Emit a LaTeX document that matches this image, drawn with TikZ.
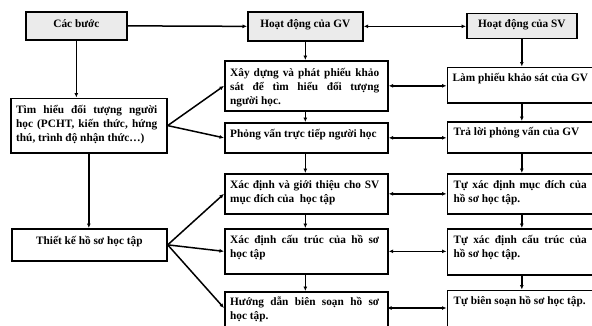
\documentclass[tikz,border=0pt]{standalone}
\usepackage{fontspec}
\setmainfont{Liberation Serif}
\usetikzlibrary{arrows.meta}
\tikzset{
  bx/.style={draw=black, line width=1.7pt, inner sep=0pt, anchor=north west, fill=white},
  hd/.style={bx, fill=black!8},
  tx/.style={inner sep=0pt, anchor=north west, align=justify, font=\fontsize{11.3}{14}\selectfont\bfseries},
  tc/.style={inner sep=0pt, anchor=north, align=center, font=\fontsize{11.3}{14}\selectfont\bfseries},
  ar/.style={line width=1.5pt, -{Latex[length=4.5pt,width=4pt]}},
  da/.style={line width=1.5pt, {Latex[length=4.5pt,width=4pt]}-{Latex[length=4.5pt,width=4pt]}}
}
\begin{document}
\begin{tikzpicture}[x=1pt,y=-1pt]
\clip (0,0) rectangle (592,325);
\fill[white] (0,0) rectangle (592,325);
% headers
\node[hd, minimum width=101pt, minimum height=28pt] (cac) at (25,11) {};
\node[tc] (tcac) at ([yshift=-6pt]cac.north) {\strut Các bước};
\node[hd, minimum width=115pt, minimum height=29pt] (gvh) at (247,11) {};
\node[tc] (tgvh) at ([yshift=-6pt]gvh.north) {\strut Hoạt động của GV};
\node[hd, minimum width=110pt, minimum height=25pt] (svh) at (466,12.5) {};
\node[tc] (tsvh) at ([yshift=-4.5pt]svh.north) {\strut Hoạt động của SV};
% left column
\node[bx, minimum width=156pt, minimum height=54.5pt] (tim) at (10,97.5) {};
\node[tx, text width=141pt] (ttim) at ([xshift=6pt,yshift=-6pt]tim.north west) {\strut Tìm hiểu đối tượng người\linebreak học (PCHT, kiến thức, hứng\linebreak thú, trình độ nhận thức…)};
\node[bx, minimum width=155pt, minimum height=32pt] (thiet) at (11,228) {};
\node[tc] (tthiet) at ([yshift=-6pt]thiet.north) {\strut Thiết kế hồ sơ học tập};
% GV column
\node[bx, minimum width=163pt, minimum height=50pt] (gv1) at (224,60) {};
\node[tx, text width=149pt] (tgv1) at ([xshift=6pt,yshift=-6pt]gv1.north west) {\strut Xây dựng và phát phiếu khảo\linebreak sát để tìm hiểu đối tượng\linebreak người học.};
\node[bx, minimum width=163pt, minimum height=30pt] (gv2) at (224,122) {};
\node[tx, text width=149pt] (tgv2) at ([xshift=6pt,yshift=-5pt]gv2.north west) {\strut Phỏng vấn trực tiếp người học};
\node[bx, minimum width=163pt, minimum height=40pt] (gv3) at (224,173) {};
\node[tx, text width=149pt] (tgv3) at ([xshift=6pt,yshift=-5.5pt]gv3.north west) {\strut Xác định và giới thiệu cho SV\linebreak mục đích của\ \ học tập};
\node[bx, minimum width=163pt, minimum height=45pt] (gv4) at (224,228) {};
\node[tx, text width=149pt] (tgv4) at ([xshift=6pt,yshift=-5pt]gv4.north west) {\strut Xác định cấu trúc của hồ sơ\linebreak học tập};
\node[bx, minimum width=163pt, minimum height=45pt] (gv5) at (224,291) {};
\node[tx, text width=149pt] (tgv5) at ([xshift=6pt,yshift=-4pt]gv5.north west) {\strut Hướng dẫn biên soạn hồ sơ\linebreak học tập.};
% SV column
\node[bx, minimum width=145pt, minimum height=35.5pt] (sv1) at (446.5,66.5) {};
\node[tx] (tsv1) at ([xshift=6pt,yshift=-4.5pt]sv1.north west) {\strut Làm phiếu khảo sát của GV};
\node[bx, minimum width=145pt, minimum height=31pt] (sv2) at (446.5,121) {};
\node[tx] (tsv2) at ([xshift=7pt,yshift=-4.5pt]sv2.north west) {\strut Trả lời phỏng vấn của GV};
\node[bx, minimum width=145pt, minimum height=40pt] (sv3) at (446.5,173) {};
\node[tx, text width=133pt] (tsv3) at ([xshift=7pt,yshift=-5.5pt]sv3.north west) {\strut Tự xác định mục đích của\linebreak hồ sơ học tập.};
\node[bx, minimum width=145pt, minimum height=46pt] (sv4) at (446.5,228) {};
\node[tx, text width=133pt] (tsv4) at ([xshift=7pt,yshift=-5pt]sv4.north west) {\strut Tự xác định cấu trúc của\linebreak hồ sơ học tập.};
\node[bx, minimum width=145pt, minimum height=46pt] (sv5) at (446.5,289.5) {};
\node[tx] (tsv5) at ([xshift=7pt,yshift=-4.5pt]sv5.north west) {\strut Tự biên soạn hồ sơ học tập.};
% header connectors
\draw[ar] (cac.east) -- (gvh.west);
\draw[da] (gvh.east) -- (svh.west |- gvh.east);
% left verticals
\draw[ar] (cac.south) -- (cac.south |- tim.north);
\draw[ar] (tim.south) -- (tim.south |- thiet.north);
% diagonals
\draw[ar] (tim.east) -- (gv1.west);
\draw[ar] (tim.east) -- (gv2.west);
\draw[ar] (thiet.east) -- (gv3.west);
\draw[ar] (thiet.east) -- (gv4.west);
\coordinate (g5in) at (224,308);
\draw[ar] (thiet.east) -- (g5in);
% GV verticals
\draw[ar] (gvh.south) -- (gvh.south |- gv1.north);
\draw[ar] (gvh.south |- gv1.south) -- (gvh.south |- gv2.north);
\draw[ar] (gvh.south |- gv2.south) -- (gvh.south |- gv3.north);
\draw[ar] (gvh.south |- gv3.south) -- (gvh.south |- gv4.north);
\draw[ar] (gvh.south |- gv4.south) -- (gvh.south |- gv5.north);
% SV verticals
\draw[ar] (svh.south) -- (svh.south |- sv1.north);
\draw[ar] (svh.south |- sv1.south) -- (svh.south |- sv2.north);
\draw[ar] (svh.south |- sv2.south) -- (svh.south |- sv3.north);
\draw[ar] (svh.south |- sv3.south) -- (svh.south |- sv4.north);
\draw[ar] (svh.south |- sv4.south) -- (svh.south |- sv5.north);
% GV <-> SV
\draw[da] (gv1.east) -- (sv1.west |- gv1.east);
\draw[da] (gv2.east) -- (sv2.west |- gv2.east);
\draw[da] (gv3.east) -- (sv3.west |- gv3.east);
\draw[da] (gv4.east) -- (sv4.west |- gv4.east);
\coordinate (g5out) at (387,308);
\draw[da] (g5out) -- (sv5.west |- g5out);
\end{tikzpicture}
\end{document}
